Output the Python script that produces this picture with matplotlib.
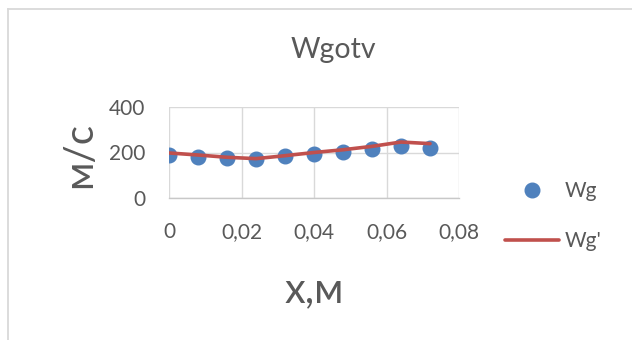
import matplotlib.pyplot as plt
from matplotlib.lines import Line2D

plt.rcParams['font.family'] = ['Lato', 'DejaVu Sans']

# data
x = [0, 0.008, 0.016, 0.024, 0.032, 0.04, 0.048, 0.056, 0.064, 0.072]
wg = [187, 179, 174, 171, 183, 193, 204, 217, 227, 220]
wg_fit = [198, 189, 179, 173, 186, 200, 212, 227, 246, 239]

xticks = [0, 0.02, 0.04, 0.06, 0.08]
xtick_labels = ['0', '0,02', '0,04', '0,06', '0,08']
yticks = [0, 200, 400]
ytick_labels = ['0', '200', '400']

text_col = '#595959'
grid_col = '#d9d9d9'

fig = plt.figure(figsize=(6.32, 3.40), dpi=100)
ax = fig.add_axes([169/632, 1 - 198/340, 290/632, 91/340])

ax.plot(x, wg, 'o', color='#4F81BD', markersize=10.5, label='Wg', zorder=3)
ax.plot(x, wg_fit, '-', color='#C0504D', linewidth=2.6, label="Wg'", zorder=4,
        solid_capstyle='round')

ax.set_xlim(0, 0.08)
ax.set_ylim(0, 400)
ax.set_xticks(xticks, xtick_labels)
ax.set_yticks(yticks, ytick_labels)
ax.tick_params(length=0, labelsize=15, labelcolor=text_col, pad=17)
ax.grid(True, color=grid_col, linewidth=1)
ax.set_axisbelow(True)
for s in ['top', 'right', 'left']:
    ax.spines[s].set_visible(False)
ax.spines['bottom'].set_color('#c8c8c8')
ax.spines['bottom'].set_linewidth(1)

# titles
fig.text(333/632, 1 - 50/340, 'Wgotv', ha='center', va='center',
         fontsize=20.5, color=text_col)
fig.text(314/632, 1 - 290/340, 'х,м', ha='center', va='center',
         fontsize=30, color=text_col)
fig.text(80/632, 1 - 155/340, 'м/с', ha='center', va='center',
         fontsize=29, color=text_col, rotation=90)

leg = fig.legend(loc='center left', bbox_to_anchor=(505/632, 1 - 216/340),
                 frameon=False, fontsize=15, labelcolor=text_col,
                 handlelength=2.6, handletextpad=0.25, labelspacing=1.45,
                 borderpad=0, borderaxespad=0)

# chart area border
fig.add_artist(Line2D([8/632, 8/632], [0, 1 - 9/340], color=grid_col, linewidth=1.3))
fig.add_artist(Line2D([8/632, 1], [1 - 9/340, 1 - 9/340], color=grid_col, linewidth=1.3))

fig.savefig('out.png', dpi=100)
